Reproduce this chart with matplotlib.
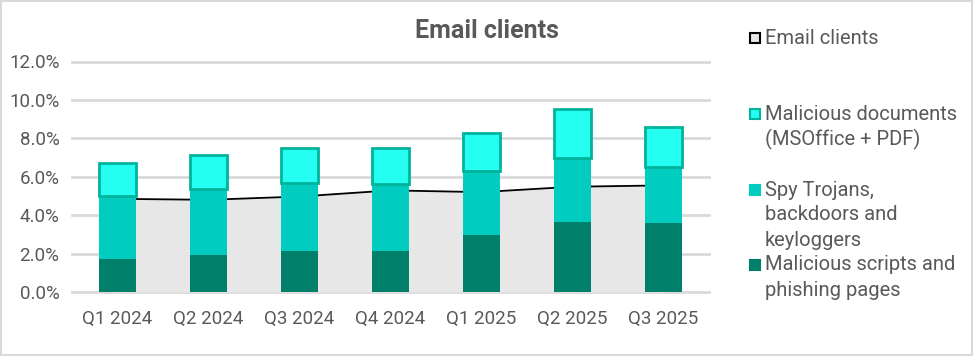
import matplotlib
matplotlib.use("Agg")
import matplotlib.pyplot as plt
from matplotlib.patches import Rectangle
import numpy as np

plt.rcParams['font.family'] = ['Roboto', 'DejaVu Sans']

quarters = ["Q1 2024", "Q2 2024", "Q3 2024", "Q4 2024", "Q1 2025", "Q2 2025", "Q3 2025"]
scripts = [1.73, 1.94, 2.15, 2.15, 2.98, 3.66, 3.61]      # Malicious scripts and phishing pages
spy = [3.28, 3.43, 3.50, 3.45, 3.33, 3.33, 2.91]          # Spy Trojans, backdoors and keyloggers
docs = [1.72, 1.74, 1.87, 1.92, 1.98, 2.56, 2.05]         # Malicious documents (MSOffice + PDF)
email = [4.85, 4.80, 4.97, 5.29, 5.20, 5.48, 5.55]        # Email clients (area)

c_dark = "#00806B"
c_mid = "#00CCC0"
c_light = "#24FFF2"
c_edge = "#00B39B"
c_text = "#595959"
c_grid = "#D9D9D9"

W, H = 973, 356
fig = plt.figure(figsize=(W / 100, H / 100), dpi=100)
ax = fig.add_axes([72 / W, (H - 292) / H, (709 - 72) / W, (292 - 61.5) / H])

x = np.arange(len(quarters))

# area behind bars
ax.fill_between(x, 0, email, color="#E7E7E7", zorder=1, linewidth=0)
ax.plot(x, email, color="black", lw=1.3, zorder=1.5)

bw = 0.41
ax.bar(x, scripts, bw, color=c_dark, zorder=2)
ax.bar(x, spy, bw, bottom=scripts, color=c_mid, zorder=2)
bot2 = np.array(scripts) + np.array(spy)
ax.bar(x, docs, bw, bottom=bot2, color=c_light, edgecolor=c_edge, linewidth=2, zorder=3)

ax.set_xlim(-0.5, 6.5)
ax.set_ylim(0, 12)
yt = np.arange(0, 13, 2)
ax.set_yticks(yt)
ax.set_yticklabels([f"{v:.1f}%" for v in yt])
ax.set_xticks(x)
ax.set_xticklabels(quarters)
for v in yt:
    ax.axhline(v, color=c_grid, lw=2, zorder=0.5, clip_on=False)
for s in ax.spines.values():
    s.set_visible(False)
ax.tick_params(length=0, labelsize=13.5, colors=c_text)
ax.tick_params(axis="y", pad=9)
ax.tick_params(axis="x", pad=13)

fig.text(487 / W, 1 - 31 / H, "Email clients", ha="center", va="center",
         fontsize=18, fontweight="bold", color=c_text)

# legend
leg = [
    (38, ["Email clients"], "#E7E7E7", "black"),
    (114, ["Malicious documents", "(MSOffice + PDF)"], c_light, c_edge),
    (190, ["Spy Trojans,", "backdoors and", "keyloggers"], c_mid, c_mid),
    (265, ["Malicious scripts and", "phishing pages"], c_dark, c_dark),
]
for y0, lines, fc, ec in leg:
    fig.patches.append(Rectangle((750 / W, 1 - (y0 + 5) / H), 10 / W, 10 / H,
                                 transform=fig.transFigure, facecolor=fc,
                                 edgecolor=ec, lw=1.5))
    for i, t in enumerate(lines):
        fig.text(765 / W, 1 - (y0 + 25 * i) / H, t, ha="left", va="center",
                 fontsize=14.5, color=c_text)

fig.patches.append(Rectangle((1 / W, 1 / H), (W - 2) / W, (H - 2) / H,
                             transform=fig.transFigure, facecolor="none",
                             edgecolor=c_grid, lw=1.5))

fig.savefig("out.png", dpi=100)
